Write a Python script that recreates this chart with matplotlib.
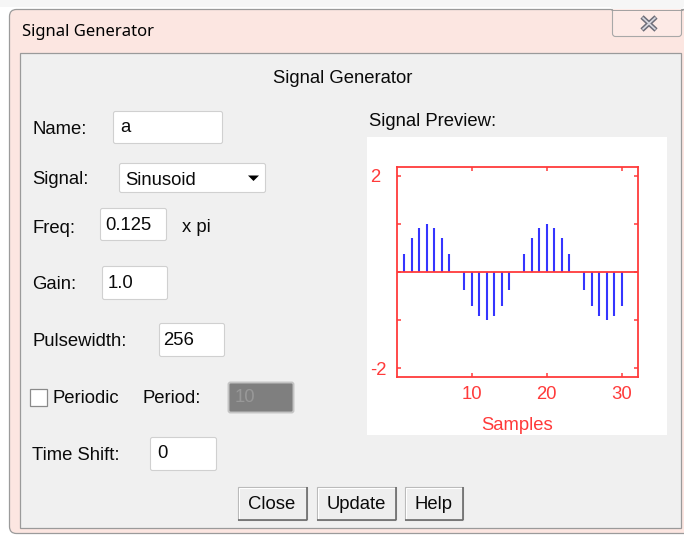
import matplotlib
matplotlib.use('Agg')
import matplotlib.pyplot as plt
from matplotlib.patches import Rectangle, FancyBboxPatch, Polygon

# ---------------- data ----------------
samples = list(range(31))
values = [0.0, 0.38, 0.71, 0.92, 1.0, 0.92, 0.71, 0.38,
          0.0, -0.38, -0.71, -0.92, -1.0, -0.92, -0.71, -0.38,
          0.0, 0.38, 0.71, 0.92, 1.0, 0.92, 0.71, 0.38,
          0.0, -0.38, -0.71, -0.92, -1.0, -0.92, -0.71]
x_ticks = [10, 20, 30]
y_ticks = [-2, -1, 0, 1, 2]
y_tick_labels = ['-2', '', '', '', '2']
x_label = 'Samples'

window_title = 'Signal Generator'
panel_title = 'Signal Generator'
preview_title = 'Signal Preview:'
field_labels = ['Name:', 'Signal:', 'Freq:', 'Gain:', 'Pulsewidth:', 'Time Shift:']
field_values = ['a', 'Sinusoid', '0.125', '1.0', '256', '0']
freq_unit = 'x pi'
periodic_label = 'Periodic'
period_label = 'Period:'
period_value = '10'
buttons = ['Close', 'Update', 'Help']

# ---------------- figure ----------------
W, H, DPI = 684, 536, 100
FONT = 'Liberation Sans'
FS = 13.3
TXT = '#0a0a0a'
RED = '#ff3a3a'
BLUE = '#3535ff'

fig = plt.figure(figsize=(W / DPI, H / DPI), dpi=DPI)
fig.patch.set_facecolor('white')
bg = fig.add_axes([0, 0, 1, 1])
bg.set_xlim(0, W)
bg.set_ylim(H, 0)
bg.axis('off')


def box(x0, y0, x1, y1, fc, ec='none', lw=1.0, r=0.0, z=1):
    if r > 0:
        p = FancyBboxPatch((x0, y0), x1 - x0, y1 - y0,
                           boxstyle=f'round,pad=0,rounding_size={r}',
                           fc=fc, ec=ec, lw=lw, zorder=z)
    else:
        p = Rectangle((x0, y0), x1 - x0, y1 - y0, fc=fc, ec=ec, lw=lw, zorder=z)
    bg.add_patch(p)


def line(xs, ys, c, lw=0.75, z=3):
    bg.plot(xs, ys, color=c, lw=lw, zorder=z, solid_capstyle='butt')


def label(x, y, s, color=TXT, ha='left', fs=FS, family=FONT, z=5):
    bg.text(x, y, s, fontsize=fs, family=family, color=color, ha=ha,
            va='baseline', zorder=z)


# window frame
box(0, 0, W, 7, '#f6f6f6', z=0)
box(9.5, 9.5, 700, 533.5, '#fce6e1', ec='#9b9b9b', lw=0.9, r=7, z=1)
# close button (rounded bottom, hangs from window top)
box(612.5, 2, 681.5, 36.5, '#fdeae6', ec='#a8a8a8', lw=0.8, r=3, z=2)
box(611, 0, 683, 9, '#f6f6f6', z=2)
line([611, 683], [9.5, 9.5], '#9b9b9b', lw=0.65, z=2)
line([642, 656], [17, 30], '#6d6d78', lw=3.4, z=3)
line([642, 656], [30, 17], '#6d6d78', lw=3.4, z=3)
line([642.5, 655.5], [17.5, 29.5], '#d8d8e0', lw=1.2, z=4)
line([642.5, 655.5], [29.5, 17.5], '#d8d8e0', lw=1.2, z=4)
label(22, 36, window_title, fs=12.0, family='Noto Sans', color='#000000')

# inner panel
box(19.5, 52.5, 680.5, 527.5, '#f0f0f0', ec='#9a9a9a', lw=0.9, z=2)

label(343, 83.3, panel_title, ha='center')
label(369, 125.7, preview_title)

# text fields: (x0, y0, x1, y1, text x, text baseline)
fields = [
    (113, 111, 222, 143, 120, 131.5),
    (119, 163, 265, 192, 125, 185),
    (100, 208, 166, 240, 105, 230),
    (102, 266, 167, 299, 108, 288.3),
    (159, 323, 224, 356, 163, 345),
    (150, 437, 216, 470, 157, 458.3),
]
label_baselines = [134, 184.3, 232.7, 289.3, 346, 460]
for lab, yb in zip(field_labels, label_baselines):
    label(32, yb, lab)
for (x0, y0, x1, y1, tx, ty), val in zip(fields, field_values):
    box(x0 + 0.5, y0 + 0.5, x1 + 0.5, y1 + 0.5, 'white', ec='#d0d0d0', lw=0.8, r=2, z=3)
    label(tx, ty, val)

# combo arrow
bg.add_patch(Polygon([[248, 175.5], [259, 175.5], [253.5, 181]], closed=True,
                     fc='black', ec='none', zorder=5))
label(182, 231.7, freq_unit)

# periodic checkbox
box(29.5, 388.5, 46.5, 405.5, 'white', ec='#8a8a8a', lw=0.9, z=3)
label(53, 402.7, periodic_label)
label(143, 402.7, period_label)
box(228.5, 382.5, 293.5, 412.5, '#7f7f7f', ec='#c4c4c4', lw=1.4, r=2, z=3)
label(235, 401.7, period_value, color='#989898')

# buttons
btn_x = [(237, 307), (316, 396), (404, 463)]
for (x0, x1), name in zip(btn_x, buttons):
    y0, y1 = 486, 520
    box(x0 + 0.5, y0 + 0.5, x1 - 0.5, y1 - 0.5, '#eeeeee', ec='#b8b8b8', lw=0.8, z=3)
    line([x0 + 1.5, x1 - 1.5], [y0 + 1.5, y0 + 1.5], 'white', lw=0.8, z=4)
    line([x0 + 1.5, x0 + 1.5], [y0 + 1.5, y1 - 1.5], 'white', lw=0.8, z=4)
    line([x0 + 0.5, x1 - 0.5], [y1 - 0.5, y1 - 0.5], '#6a6a6a', lw=1.2, z=4)
    line([x1 - 0.5, x1 - 0.5], [y0 + 0.5, y1 - 0.5], '#6a6a6a', lw=1.2, z=4)
    label((x0 + x1) / 2, 509.3, name, ha='center')

# preview white area
box(367, 137, 667, 435, 'white', z=3)

# ---------------- signal plot ----------------
L, R, T, B = 396.7, 637.7, 166.7, 377.3
ax = fig.add_axes([L / W, 1 - B / H, (R - L) / W, (B - T) / H])
ax.set_facecolor('white')
ax.set_xlim(0, 32.1)
ax.set_ylim(-2.19, 2.19)
ax.vlines(samples, 0, values, color=BLUE, lw=1.5, zorder=2)
ax.axhline(0, color=RED, lw=1.3, zorder=3)
for s in ax.spines.values():
    s.set_color(RED)
    s.set_linewidth(1.3)
ax.set_xticks(x_ticks)
ax.set_xticklabels([str(t) for t in x_ticks])
ax.set_yticks(y_ticks)
ax.set_yticklabels(y_tick_labels)
ax.tick_params(axis='both', direction='in', length=3, width=1.1, color=RED,
               labelcolor=RED, labelsize=FS, top=True, right=True)
ax.tick_params(axis='x', pad=6.5)
ax.tick_params(axis='y', pad=19)
for t in ax.get_xticklabels() + ax.get_yticklabels():
    t.set_family(FONT)
for t in ax.get_yticklabels():
    t.set_horizontalalignment('left')
ax.set_xlabel(x_label, color=RED, fontsize=FS, family=FONT, labelpad=9.5)

fig.savefig('out.png', dpi=DPI, facecolor=fig.get_facecolor())
